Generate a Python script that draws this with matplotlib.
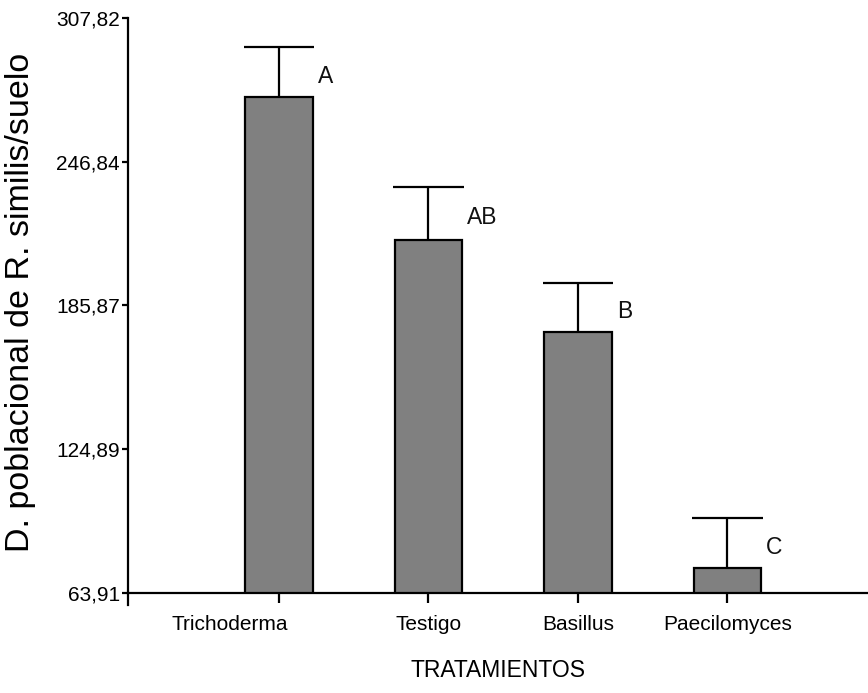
import numpy as np
import matplotlib.pyplot as plt
import matplotlib.transforms as mtransforms

tratamientos = ['Trichoderma', 'Testigo', 'Basillus', 'Paecilomyces']
medias = [274.2, 213.6, 174.6, 74.5]
errores = [21.3, 22.5, 20.8, 21.2]
letras = ['A', 'AB', 'B', 'C']
yticks = [63.91, 124.89, 185.87, 246.84, 307.82]

fuente = ['Liberation Sans', 'DejaVu Sans']
plt.rcParams['font.family'] = fuente
plt.rcParams['text.color'] = '#111111'

fig = plt.figure(figsize=(8.68, 6.93), dpi=100)
ax = fig.add_axes([128/868, 100/693, 1 - 128/868, 575/693])

x = np.arange(len(tratamientos))
ancho = 0.45
ax.bar(x, medias, width=ancho, color='#808080', edgecolor='black',
       linewidth=1.6, zorder=2)

# solo la mitad superior del error
tope = np.array(medias) + np.array(errores)
ax.vlines(x, medias, tope, color='black', linewidth=1.6, zorder=3)
ax.hlines(tope, x - 0.235, x + 0.235, color='black', linewidth=1.6, zorder=3)

for xi, m, e, l in zip(x, medias, errores, letras):
    ax.text(xi + 0.26, m + 0.42 * e, l, ha='left', va='center', fontsize=16.5)

ax.set_xlim(-1.01, 3.94)
ax.set_ylim(63.91, 307.82)
ax.set_yticks(yticks)
ax.set_yticklabels([f'{v:.2f}'.replace('.', ',') for v in yticks], fontsize=15)
ax.set_xticks(x)
ax.set_xticklabels(tratamientos, fontsize=15)
ax.tick_params(axis='y', direction='out', length=4, width=1.6, pad=2)
ax.tick_params(axis='x', direction='out', length=7, width=1.6, pad=9)

# la primera etiqueta va corrida a la izquierda
lab0 = ax.get_xticklabels()[0]
lab0.set_transform(lab0.get_transform() +
                   mtransforms.ScaledTranslation(-0.49, 0, fig.dpi_scale_trans))

for s in ['top', 'right']:
    ax.spines[s].set_visible(False)
ax.spines['left'].set_linewidth(1.6)
ax.spines['bottom'].set_linewidth(1.6)
ax.spines['left'].set_bounds(58.9, 307.82)

ax.set_xlabel('TRATAMIENTOS', fontsize=16.5, labelpad=18)
ax.set_ylabel('D. poblacional de R. similis/suelo', fontsize=24.5)
ax.yaxis.set_label_coords(-0.124, 0.506)

fig.savefig('out.png', dpi=100)
